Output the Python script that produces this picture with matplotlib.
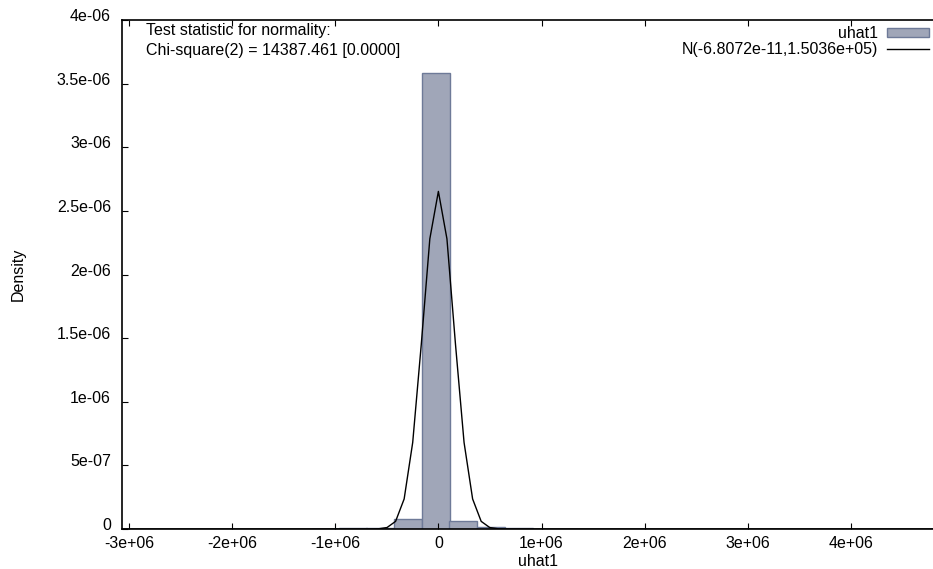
import matplotlib
matplotlib.use("Agg")
import matplotlib.pyplot as plt
import matplotlib.transforms as mtransforms

plt.rcParams["font.family"] = ["Liberation Sans", "DejaVu Sans"]
plt.rcParams["font.size"] = 11.5

# histogram bins (left edge, width) and densities
bin_left = [-1.23e6, -0.96e6, -0.70e6, -0.427e6, -0.155e6, 0.107e6, 0.379e6, 0.65e6]
bin_width = 0.27e6
density = [0.3e-8, 0.5e-8, 1.0e-8, 7.9e-8, 3.58e-6, 6.3e-8, 1.2e-8, 0.4e-8]

# normal curve samples
curve_x = [-3.07e6, -6.64e5, -5.81e5, -4.98e5, -4.15e5, -3.32e5, -2.49e5, -1.66e5, -0.83e5, 0.0,
           0.83e5, 1.66e5, 2.49e5, 3.32e5, 4.15e5, 4.98e5, 5.81e5, 6.64e5, 5.0e6]
curve_y = [0.0, 0.0002e-6, 0.0016e-6, 0.0115e-6, 0.060e-6, 0.236e-6, 0.68e-6, 1.45e-6, 2.28e-6, 2.653e-6,
           2.28e-6, 1.45e-6, 0.68e-6, 0.236e-6, 0.060e-6, 0.0115e-6, 0.0016e-6, 0.0002e-6, 0.0]

xticks = [-3e6, -2e6, -1e6, 0, 1e6, 2e6, 3e6, 4e6]
xticklabels = ["-3e+06", "-2e+06", "-1e+06", "0", "1e+06", "2e+06", "3e+06", "4e+06"]
yticks = [0, 5e-7, 1e-6, 1.5e-6, 2e-6, 2.5e-6, 3e-6, 3.5e-6, 4e-6]
yticklabels = ["0", "5e-07", "1e-06", "1.5e-06", "2e-06", "2.5e-06", "3e-06", "3.5e-06", "4e-06"]

fig = plt.figure(figsize=(9.33, 5.69), dpi=100)
ax = fig.add_axes([122 / 933, 40 / 569, (954 - 122) / 933, 509 / 569])

bars = ax.bar(bin_left, density, width=bin_width, align="edge",
              color="#a0a6b8", edgecolor="#6e7a98", linewidth=1.0, label="uhat1")
line, = ax.plot(curve_x, curve_y, color="black", linewidth=1.0,
                label="N(-6.8072e-11,1.5036e+05)")

ax.set_xlim(-3.068e6, 5.0e6)
ax.set_ylim(0, 4e-6)
ax.set_xticks(xticks)
ax.set_xticklabels(xticklabels)
ax.set_yticks(yticks)
ax.set_yticklabels(yticklabels)
ax.tick_params(direction="in", length=4, width=0.8, top=True, right=True)
ax.tick_params(axis="y", pad=8)
ax.tick_params(axis="x", pad=5)
for sp in ax.spines.values():
    sp.set_linewidth(1.2)

# gnuplot puts the y labels a little above their ticks
shift = mtransforms.ScaledTranslation(0, 5 / 100, fig.dpi_scale_trans)
for lab in ax.get_yticklabels():
    lab.set_transform(lab.get_transform() + shift)

ax.set_xlabel("uhat1", labelpad=2)
ax.set_ylabel("Density", labelpad=22)

fig.text(146 / 933, 1 - 30 / 569, "Test statistic for normality:", va="center", ha="left")
fig.text(146 / 933, 1 - 50 / 569, "Chi-square(2) = 14387.461 [0.0000]", va="center", ha="left")

fig.legend(handles=[bars, line], loc="upper right", bbox_to_anchor=(929 / 933, 1 - 26 / 569),
           frameon=False, markerfirst=False, handlelength=2.6, handleheight=0.5,
           labelspacing=0.05, borderpad=0, borderaxespad=0, handletextpad=0.6)

fig.savefig("out.png", dpi=100)
